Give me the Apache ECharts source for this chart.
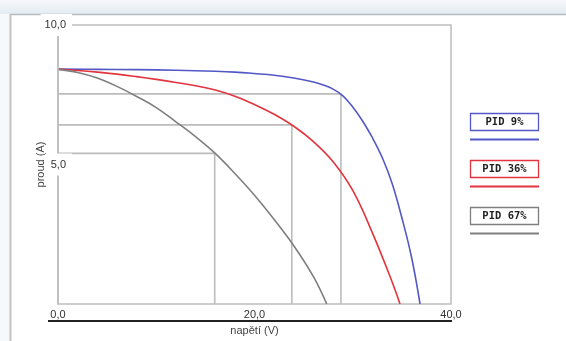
<!DOCTYPE html>
<html>
<head>
<meta charset="utf-8">
<script src="https://cdn.jsdelivr.net/npm/echarts@6/dist/echarts.min.js"></script>
<style>html,body{margin:0;padding:0;background:#fff}#c{width:566px;height:341px}</style>
</head>
<body>
<div id="c"></div>
<script>
// ---- data ----
var seriesNames = ['PID 9%', 'PID 36%', 'PID 67%'];
var seriesColors = ['#5358c6', '#e2343d', '#7f7f7f'];
var curve9 = [[0,8.42],[4,8.41],[8,8.40],[12,8.38],[16,8.34],[18,8.31],[20,8.26],[22,8.20],[24,8.10],[26,7.96],[27,7.85],[28,7.70],[29,7.46],[30,7.06],[31,6.56],[32,5.96],[33,5.25],[34,4.33],[35,3.09],[36,1.65],[36.85,0]];
var curve36 = [[0,8.42],[2,8.37],[4,8.31],[6,8.24],[8,8.15],[10,8.05],[12,7.94],[14,7.82],[16,7.67],[18,7.45],[20,7.15],[22,6.80],[24,6.37],[26,5.82],[28,5.10],[30,4.07],[32,2.55],[34,0.80],[34.81,0]];
var curve67 = [[0,8.41],[2,8.30],[4,8.10],[6,7.80],[8,7.44],[10,7.04],[12,6.53],[14,6.00],[16,5.40],[18,4.68],[20,3.90],[22,3.03],[24,2.09],[26,0.98],[27.35,0]];
var mppV = [28.8, 23.8, 15.95];
var mppI = [7.53, 6.42, 5.40];
var xTickLabels = ['0,0', '20,0', '40,0'];
var yTickLabels = ['5,0', '10,0'];
var xName = 'napětí (V)';
var yName = 'proud (A)';

var curves = [curve9, curve36, curve67];
var chart = echarts.init(document.getElementById('c'), null, {renderer: 'canvas'});

var series = [];
// MPP guide lines
for (var i = 0; i < 3; i++) {
  series.push({
    type: 'line', silent: true, symbol: 'none', z: 1,
    data: [[0, mppI[i]], [mppV[i], mppI[i]], [mppV[i], 0]],
    lineStyle: {color: '#bcbcbc', width: 1.6}
  });
}
for (var i = 0; i < 3; i++) {
  series.push({
    name: seriesNames[i], type: 'line', symbol: 'none', smooth: 0.4, z: 3,
    data: curves[i],
    lineStyle: {color: seriesColors[i], width: 1.6}
  });
}

var graphic = [
  {type: 'rect', shape: {x: 0, y: 0, width: 566, height: 14}, style: {fill: new echarts.graphic.LinearGradient(0,0,0,1,[{offset:0,color:'#f6f8fb'},{offset:1,color:'#e4ebf2'}])}, z: -10},
  {type: 'rect', shape: {x: 0, y: 14, width: 10, height: 327}, style: {fill: '#f7f8fa'}, z: -10},
  {type: 'line', shape: {x1: 10, y1: 14.5, x2: 566, y2: 14.5}, style: {stroke: '#b3bac2', lineWidth: 1.5}, z: -9},
  {type: 'line', shape: {x1: 10.5, y1: 14, x2: 10.5, y2: 341}, style: {stroke: '#c4c4c4', lineWidth: 2}, z: -9},
  {type: 'line', shape: {x1: 48, y1: 321, x2: 452, y2: 321}, style: {stroke: '#222', lineWidth: 2}}
];
for (var i = 0; i < 3; i++) {
  var ty = 113 + i * 47;
  graphic.push({type: 'rect', shape: {x: 470.5, y: ty + 0.5, width: 68, height: 17}, style: {fill: '#fff', stroke: seriesColors[i], lineWidth: 1.3}});
  graphic.push({type: 'text', x: 504.5, y: ty + 9, style: {text: seriesNames[i], fill: '#222', font: 'bold 10.5px "DejaVu Sans Mono", monospace', textAlign: 'center', textVerticalAlign: 'middle'}});
  graphic.push({type: 'line', shape: {x1: 470, y1: ty + 26.5, x2: 539, y2: ty + 26.5}, style: {stroke: seriesColors[i], lineWidth: 2}});
}

chart.setOption({
  animation: false,
  backgroundColor: '#fff',
  grid: {left: 58, top: 25, width: 393, height: 279, show: true, borderColor: '#bdbdbd', borderWidth: 1.5, backgroundColor: 'transparent'},
  xAxis: {
    type: 'value', min: 0, max: 40, interval: 20,
    axisLine: {show: false}, axisTick: {show: false}, splitLine: {show: false},
    axisLabel: {margin: 5, color: '#333', fontSize: 11, fontFamily: 'Liberation Sans, Arial',
      formatter: function (v) { return xTickLabels[Math.round(v / 20)]; }},
    name: xName, nameLocation: 'middle', nameGap: 21, nameMoveOverlap: false,
    nameTextStyle: {color: '#444', fontSize: 11, fontFamily: 'Liberation Sans, Arial'}
  },
  yAxis: {
    type: 'value', min: 0, max: 10, interval: 5, z: 5,
    axisLine: {show: true, lineStyle: {color: '#bdbdbd', width: 1.5}},
    axisTick: {show: false}, splitLine: {show: false},
    axisLabel: {showMinLabel: false, align: 'right', margin: -14, color: '#333', fontSize: 11,
      fontFamily: 'Liberation Sans, Arial', backgroundColor: '#fff', padding: [4, 6, 7, 4],
      formatter: function (v) { return v === 0 ? '' : yTickLabels[Math.round(v / 5) - 1]; }},
    name: yName, nameLocation: 'middle', nameGap: 12, nameMoveOverlap: false,
    nameTextStyle: {color: '#444', fontSize: 11, fontFamily: 'Liberation Sans, Arial'}
  },
  series: series,
  graphic: graphic
});
</script>
</body>
</html>
